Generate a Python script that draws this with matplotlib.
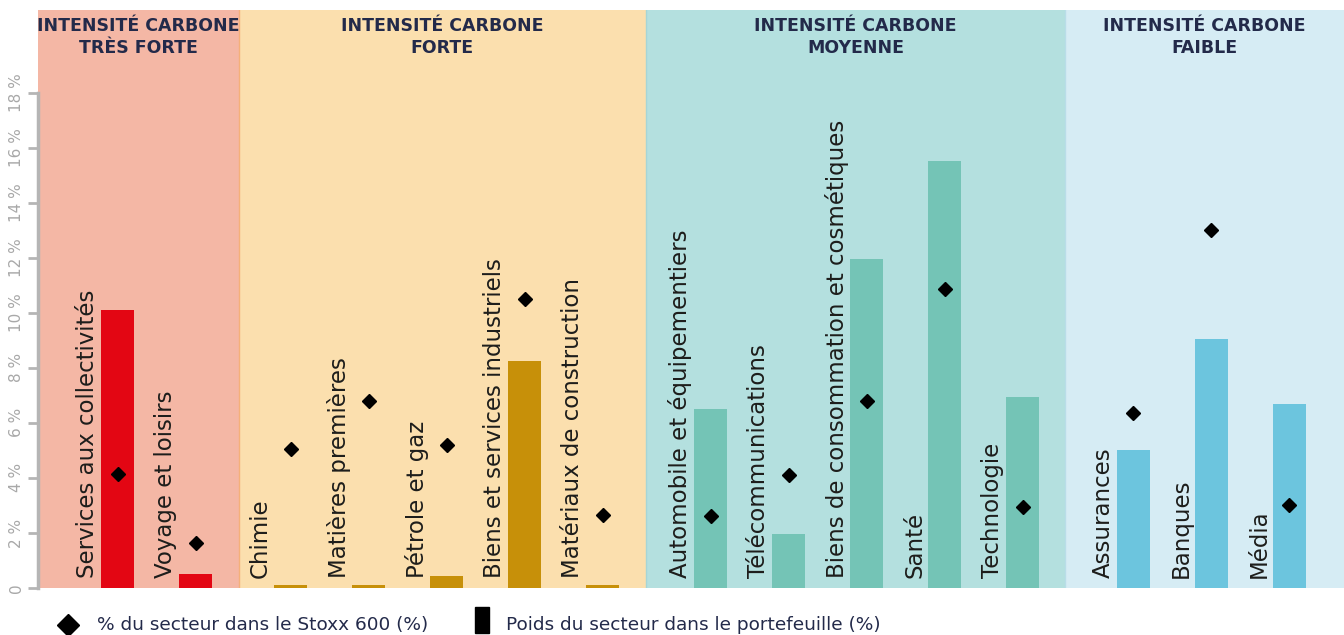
import matplotlib.pyplot as plt
from matplotlib.patches import Rectangle
from matplotlib.lines import Line2D

# sectors, left to right
sectors = ["Services aux collectivités", "Voyage et loisirs",
           "Chimie", "Matières premières", "Pétrole et gaz",
           "Biens et services industriels", "Matériaux de construction",
           "Automobile et équipementiers", "Télécommunications",
           "Biens de consommation et cosmétiques", "Santé", "Technologie",
           "Assurances", "Banques", "Média"]
group_of = [0, 0, 1, 1, 1, 1, 1, 2, 2, 2, 2, 2, 3, 3, 3]

# poids du secteur dans le portefeuille (%)
portfolio = [10.1, 0.5, 0.1, 0.1, 0.45, 8.25, 0.1,
             6.5, 1.95, 11.95, 15.5, 6.95, 5.0, 9.05, 6.7]
# % du secteur dans le Stoxx 600
stoxx = [4.15, 1.65, 5.05, 6.8, 5.2, 10.5, 2.65,
         2.6, 4.1, 6.8, 10.85, 2.95, 6.35, 13.0, 3.0]

group_titles = ["INTENSITÉ CARBONE\nTRÈS FORTE", "INTENSITÉ CARBONE\nFORTE",
                "INTENSITÉ CARBONE\nMOYENNE", "INTENSITÉ CARBONE\nFAIBLE"]
group_bg = ["#f4b7a5", "#fbdfae", "#b4e0df", "#d6ecf4"]
group_bar = ["#e30613", "#c79009", "#74c4b6", "#6cc5de"]
group_edge = ["#f5b07a", "#a6d5d6", "#b9dde8"]

yticks = [0, 2, 4, 6, 8, 10, 12, 14, 16, 18]
ytick_labels = ["0", "2 %", "4 %", "6 %", "8 %", "10 %", "12 %", "14 %", "16 %", "18 %"]

navy = "#232a4a"
gaps = [0.22, 0.38, 0.42]  # extra space before groups 1..3

plt.rcParams['font.family'] = ['DejaVu Sans']

fig = plt.figure(figsize=(13.44, 6.35), dpi=100)
ax = fig.add_axes([38 / 1344, 47 / 635, 1306 / 1344, 578 / 635])

offset = [0]
for gp in gaps:
    offset.append(offset[-1] + gp)
x = [i + offset[g] for i, g in enumerate(group_of)]
ngroups = len(group_titles)
xmin, xmax = -1.02, 15.72

# group boundaries
bounds = [xmin]
for g in range(1, ngroups):
    last = max(xi for xi, gg in zip(x, group_of) if gg == g - 1)
    bounds.append(last + 0.55)
bounds.append(xmax)

for g in range(ngroups):
    ax.axvspan(bounds[g], bounds[g + 1], color=group_bg[g], lw=0, zorder=0)
    ax.text((bounds[g] + bounds[g + 1]) / 2, 0.953, group_titles[g],
            transform=ax.get_xaxis_transform(), ha="center", va="center",
            fontsize=12.5, fontweight="bold", color=navy, linespacing=1.25)
for g in range(1, ngroups):
    ax.axvline(bounds[g], color=group_edge[g - 1], lw=1, zorder=1)

colors = [group_bar[g] for g in group_of]
ax.bar(x, portfolio, width=0.423, color=colors, zorder=2)
ax.plot(x, stoxx, linestyle="none", marker="D", markersize=7, color="black", zorder=3)

for xi, name in zip(x, sectors):
    ax.text(xi - 0.385, 0.35, name, rotation=90, ha="center", va="bottom",
            fontsize=16.5, color="#1d1d1b", zorder=4)

ax.set_xlim(xmin, xmax)
ax.set_ylim(0, 21)
ax.set_xticks([])
ax.set_yticks(yticks)
ax.set_yticklabels(ytick_labels, rotation=90, va="center", fontsize=11, color="#a8a8a8")
ax.tick_params(axis="y", length=7, width=2, color="#b5b5b5", pad=3)
for s in ["top", "right", "bottom"]:
    ax.spines[s].set_visible(False)
ax.spines["left"].set_bounds(0, 18)
ax.spines["left"].set_color("#b5b5b5")
ax.spines["left"].set_linewidth(2.5)

# legend below the chart
fig.add_artist(Line2D([68 / 1344], [1 - 625 / 635], marker="D", markersize=11.5,
                      color="black", transform=fig.transFigure))
fig.text(97 / 1344, 1 - 625 / 635, "% du secteur dans le Stoxx 600 (%)",
         ha="left", va="center", fontsize=13.3, color=navy)
fig.add_artist(Rectangle((475 / 1344, 1 - 633 / 635), 14 / 1344, 26 / 635,
                         color="black", transform=fig.transFigure))
fig.text(506 / 1344, 1 - 625 / 635, "Poids du secteur dans le portefeuille (%)",
         ha="left", va="center", fontsize=13.3, color=navy)

fig.savefig("out.png", dpi=100)
